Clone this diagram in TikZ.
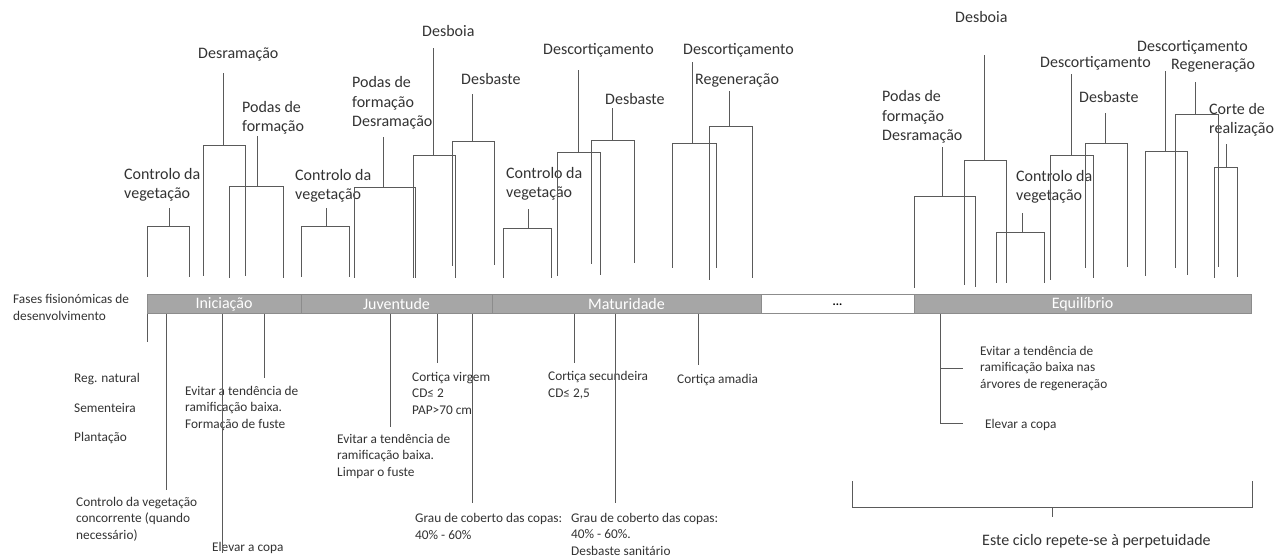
\documentclass[tikz,border=0pt]{standalone}
\usepackage{fontspec}
\setmainfont{Carlito}
\definecolor{txt}{HTML}{333333}
\definecolor{lnc}{HTML}{5A5A5A}
\definecolor{barf}{HTML}{A6A6A6}
\definecolor{bard}{HTML}{8C8C8C}
\newcommand\mybrk[7]{\draw[ln] (#1,#4) -- (#1,#3) -- (#2,#3) -- (#2,#5); \draw[ln] (#6,#3) -- (#6,#7);}
\tikzset{
  lbl/.style={anchor=base west, inner sep=0pt, align=left, text=txt, font=\fontsize{16}{19.5}\selectfont},
  sml/.style={anchor=base west, inner sep=0pt, align=left, text=txt, font=\fontsize{13.3}{16.5}\selectfont},
  ln/.style={draw=lnc, line width=1pt},
  phase/.style={draw=bard, fill=barf, line width=1pt, inner sep=0pt, minimum height=19pt, text=white, font=\fontsize{16}{19}\selectfont},
}
\begin{document}
\begin{tikzpicture}[x=1pt,y=-1pt]
\useasboundingbox[fill=white] (0,0) rectangle (1286,556);

% phase bar
\node[phase, minimum width=154pt] (ini) at (224,304.5) {Iniciação};
\node[phase, minimum width=191pt] (juv) at (396.5,304.5) {Juventude};
\node[phase, minimum width=269pt] (mat) at (626.5,304.5) {Maturidade};
\node[phase, minimum width=153pt, fill=white, text=black, font=\fontsize{12}{14}\selectfont\bfseries] (dots) at (837.5,304.5) {...};
\node[phase, minimum width=337pt] (equ) at (1082.5,304.5) {Equilíbrio};

% top labels (anchor = baseline of last line)
\node[lbl] (l1) at (124,199) {Controlo da\\vegetação};
\node[lbl] (l2) at (198,59) {Desramação};
\node[lbl] (l3) at (242,132) {Podas de\\formação};
\node[lbl] (l4) at (295,200) {Controlo da\\vegetação};
\node[lbl] (l5) at (352,127) {Podas de\\formação\\Desramação};
\node[lbl] (l6) at (422,37) {Desboia};
\node[lbl] (l7) at (461,85) {Desbaste};
\node[lbl] (l8) at (506,198) {Controlo da\\vegetação};
\node[lbl] (l9) at (543,55) {Descortiçamento};
\node[lbl] (l10) at (605,105) {Desbaste};
\node[lbl] (l11) at (683,55) {Descortiçamento};
\node[lbl] (l12) at (695,85) {Regeneração};
\node[lbl] (l13) at (882,141) {Podas de\\formação\\Desramação};
\node[lbl] (l14) at (955,23) {Desboia};
\node[lbl] (l15) at (1016,201) {Controlo da\\vegetação};
\node[lbl] (l16) at (1040,68) {Descortiçamento};
\node[lbl] (l17) at (1079,103) {Desbaste};
\node[lbl] (l18) at (1137,52) {Descortiçamento};
\node[lbl] (l19) at (1171,70) {Regeneração};
\node[lbl] (l20) at (1209,134) {Corte de\\realização};

% brackets: xl, xr, ytop, ybottom-left, ybottom-right, xstem, ystemtop
\mybrk{147}{189}{227}{277}{277}{169}{208}
\mybrk{203}{245}{146}{276}{276}{223}{73}
\mybrk{229}{283}{187}{278}{278}{257}{136}
\mybrk{301}{349}{227}{277}{277}{326}{208}
\mybrk{354}{415}{188}{278}{278}{383}{137}
\mybrk{413}{455}{156}{278}{278}{433}{48}
\mybrk{452}{494}{142}{266}{265}{472}{94}
\mybrk{503}{551}{229}{278}{278}{528}{209}
\mybrk{557}{600}{153}{276}{275}{578}{70}
\mybrk{591}{634}{141}{264}{263}{612}{108}
\mybrk{672}{716}{144}{268}{268}{692}{62}
\mybrk{709}{752}{127}{280}{278}{729}{91}
\mybrk{914}{975}{197}{288}{287}{942}{147}
\mybrk{964}{1006}{161}{285}{283}{984}{55}
\mybrk{996}{1044}{233}{283}{283}{1022}{213}
\mybrk{1050}{1093}{156}{280}{278}{1071}{74}
\mybrk{1085}{1127}{144}{268}{267}{1105}{113}
\mybrk{1145}{1187}{152}{276}{275}{1165}{71}
\mybrk{1175}{1218}{115}{268}{267}{1195}{82}
\mybrk{1214}{1237}{168}{278}{277}{1226}{144}

% bottom labels (anchor = baseline of last line)
\node[sml] (fas) at (13,320) {Fases fisionómicas de\\desenvolvimento};
\node[sml] (r1) at (74,382) {Reg. natural};
\node[sml] (r2) at (74,412) {Sementeira};
\node[sml] (r3) at (74,441) {Plantação};
\node[sml] (e1) at (185,428) {Evitar a tendência de\\ramificação baixa.\\Formação de fuste};
\node[sml] (c1) at (76,539) {Controlo da vegetação\\concorrente (quando\\necessário)};
\node[sml] (el1) at (212,551) {Elevar a copa};
\node[sml] (cv) at (412,414) {Cortiça virgem\\CD≤ 2\\PAP>70 cm};
\node[sml] (e2) at (337,476) {Evitar a tendência de\\ramificação baixa.\\Limpar o fuste};
\node[sml] (g1) at (415,539) {Grau de coberto das copas:\\40\% - 60\%};
\node[sml] (cs) at (548,397) {Cortiça secundeira\\CD≤ 2,5};
\node[sml] (ca) at (677,383) {Cortiça amadia};
\node[sml] (g2) at (571,555) {Grau de coberto das copas:\\40\% - 60\%.\\Desbaste sanitário};
\node[sml] (e3) at (980,388) {Evitar a tendência de\\ramificação baixa nas\\árvores de regeneração};
\node[sml] (el2) at (985,428) {Elevar a copa};
\node[lbl] (ciclo) at (982,545) {Este ciclo repete-se à perpetuidade};

% lines below bar
\draw[ln] (ini.south -| 147,0) -- (147,342);
\draw[ln] (ini.south -| 166,0) -- (166,490);
\draw[ln] (ini.south -| 222,0) -- (222,553);
\draw[ln] (ini.south -| 264,0) -- (264,378);
\draw[ln] (juv.south -| 390,0) -- (390,427);
\draw[ln] (juv.south -| 437,0) -- (437,363);
\draw[ln] (juv.south -| 472,0) -- (472,503);
\draw[ln] (mat.south -| 574,0) -- (574,363);
\draw[ln] (mat.south -| 615,0) -- (615,503);
\draw[ln] (mat.south -| 698,0) -- (698,365);
\draw[ln] (equ.south -| 940,0) -- (940,423) -- (963,423);
\draw[ln] (940,368) -- (963,368);

% cycle bracket
\draw[ln] (852,481) -- (852,507) -- (1252,507) -- (1252,481);
\draw[ln] (1052,507) -- (1052,517);
\end{tikzpicture}
\end{document}
